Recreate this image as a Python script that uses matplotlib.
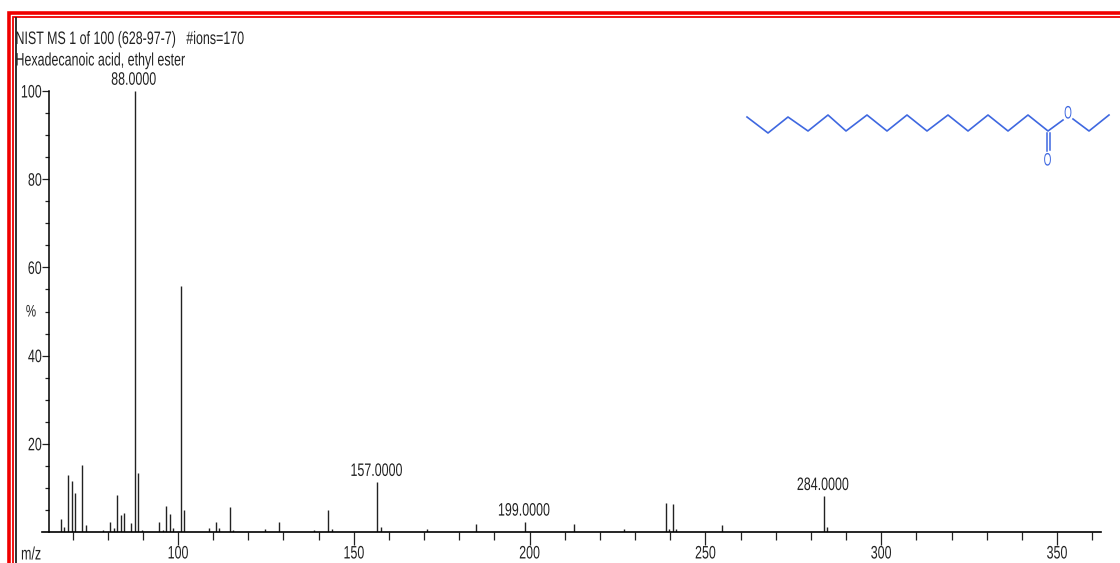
import matplotlib
matplotlib.use('Agg')
import matplotlib.pyplot as plt
import matplotlib.patheffects as pe
from matplotlib.transforms import Affine2D, ScaledTranslation

plt.rcParams['font.family'] = ['Liberation Sans', 'DejaVu Sans']

# peak list
mz = [67, 68, 69, 70, 71, 73, 74, 79, 81, 82, 83, 84, 85, 87, 88, 89, 90,
      95, 96, 97, 98, 99, 101, 102, 109, 111, 112, 115, 116, 125, 129, 139,
      143, 144, 157, 158, 171, 185, 199, 213, 227, 239, 240, 241, 242, 255,
      284, 285]
intensity = [3.0, 1.2, 12.9, 11.5, 8.9, 15.1, 1.5, 0.5, 2.3, 0.9, 8.5, 3.8, 4.4, 2.0, 100, 13.3, 0.5,
             2.3, 0.5, 6.0, 4.1, 0.8, 55.8, 4.9, 0.8, 2.3, 0.8, 5.6, 0.5, 0.75, 2.3, 0.4,
             5.05, 0.7, 11.3, 1.1, 0.7, 1.9, 2.3, 1.9, 0.75, 6.6, 0.7, 6.3, 0.75, 1.5,
             8.1, 1.1]
labelled = [88, 157, 199, 284]
x_major = [100, 150, 200, 250, 300, 350]
x_minor = [70, 80, 90, 110, 120, 130, 140, 160, 170, 180, 190, 210, 220, 230, 240,
           260, 270, 280, 290, 310, 320, 330, 340, 360]
y_major = [20, 40, 60, 80, 100]
y_minor = [5, 10, 15, 25, 30, 35, 45, 50, 55, 65, 70, 75, 85, 90, 95]

# structure drawing, in image pixels
chain_x = [747, 768, 788, 808, 828, 846, 867, 887, 907, 927, 948, 968, 988, 1008, 1028, 1048, 1063]
chain_y = [117, 133, 117, 131, 115, 131, 115, 131, 115, 131, 115, 131, 115, 131, 115, 131, 120]
ethyl_x = [1073, 1089, 1109]
ethyl_y = [119, 131, 115]
BLUE = '#3f68e0'
INK = '#222222'
FS = 13


class Narrow(pe.AbstractPathEffect):
    # squeeze text sideways, the original font is a tall condensed one
    def __init__(self, sx=0.69, anchor='center'):
        super().__init__()
        self.sx = sx
        self.anchor = anchor

    def draw_path(self, renderer, gc, tpath, affine, rgbFace=None):
        box = tpath.get_extents()
        x0 = {'left': box.x0, 'right': box.x1, 'center': (box.x0 + box.x1) / 2}[self.anchor]
        squeeze = Affine2D().translate(-x0, 0).scale(self.sx, 1).translate(x0, 0)
        renderer.draw_path(gc, tpath, squeeze + affine, rgbFace)


W, H = 1120, 563
fig = plt.figure(figsize=(W / 100, H / 100), dpi=100, facecolor='white')

# axes spans 42..1101 px across so the baseline overshoots the y axis like the original
x_at_100, px_per_mz = 178.0, 3.516
ax = fig.add_axes([42 / W, 1 - 532 / H, (1101 - 42) / W, (532 - 91) / H])
ax.set_xlim(100 + (42 - x_at_100) / px_per_mz, 100 + (1101 - x_at_100) / px_per_mz)
ax.set_ylim(0, 100)
ax.patch.set_alpha(0)

# sticks sit one pixel left of the ticks in the original
stick_shift = ScaledTranslation(-0.01, 0, fig.dpi_scale_trans)
ax.vlines(mz, 0, intensity, color=INK, lw=1.0, transform=ax.transData + stick_shift)
for m, h in zip(mz, intensity):
    if m in labelled:
        ax.annotate('%.4f' % m, (m, h), xytext=(-1.5, 4.5), textcoords='offset points',
                    ha='center', va='baseline', fontsize=FS, color=INK,
                    path_effects=[Narrow()])

for s in ['top', 'right']:
    ax.spines[s].set_visible(False)
ax.spines['left'].set_position(('data', 100 + (49 - x_at_100) / px_per_mz))
ax.spines['left'].set_bounds(0, 100)
ax.spines['left'].set_linewidth(1.1)
ax.spines['bottom'].set_linewidth(1.2)

ax.set_xticks(x_major)
ax.set_xticks(x_minor, minor=True)
ax.set_yticks(y_major)
ax.set_yticks(y_minor, minor=True)
ax.tick_params(axis='x', which='major', length=9, width=0.9, color=INK, labelcolor=INK, labelsize=FS, pad=0.7)
ax.tick_params(axis='x', which='minor', length=5.5, width=0.9, color=INK)
ax.tick_params(axis='y', which='major', length=5, width=0.9, color=INK, labelcolor=INK, labelsize=FS, pad=0)
ax.tick_params(axis='y', which='minor', length=3, width=0.9, color=INK)
for lab in ax.get_xticklabels():
    lab.set_path_effects([Narrow()])
for lab in ax.get_yticklabels():
    lab.set_path_effects([Narrow(anchor='right')])

# overlay in image pixels for the window frame, header and structure
ov = fig.add_axes([0, 0, 1, 1])
ov.set_xlim(0, W)
ov.set_ylim(H, 0)
ov.axis('off')
ov.patch.set_alpha(0)

ov.plot([8.5, 8.5, W], [H, 12.5, 12.5], color='#f00000', lw=2.6, solid_joinstyle='miter')
ov.plot([13, 13, W], [H, 16.5, 16.5], color='#f00000', lw=1.3, solid_joinstyle='miter')
ov.plot([16, 16], [H, 18], color=INK, lw=1.3)

ov.text(15, 39.5, 'NIST MS 1 of 100 (628-97-7)   #ions=170', fontsize=FS, color=INK, ha='left', va='center',
        path_effects=[Narrow(anchor='left')])
ov.text(15, 61, 'Hexadecanoic acid, ethyl ester', fontsize=FS, color=INK, ha='left', va='center',
        path_effects=[Narrow(anchor='left')])
ov.text(31, 312, '%', fontsize=FS - 1, color=INK, ha='center', va='center', path_effects=[Narrow()])
ov.text(31, 555, 'm/z', fontsize=FS, color=INK, ha='center', va='center', path_effects=[Narrow()])

ov.plot(chain_x, chain_y, color=BLUE, lw=1.2)
ov.plot(ethyl_x, ethyl_y, color=BLUE, lw=1.2)
ov.plot([1046.5, 1046.5], [133, 151], color=BLUE, lw=1.1)
ov.plot([1050, 1050], [133, 150], color=BLUE, lw=1.1)
ov.text(1068, 114, 'O', fontsize=FS, color=BLUE, ha='center', va='center', path_effects=[Narrow(0.55)])
ov.text(1047.5, 161, 'O', fontsize=FS, color=BLUE, ha='center', va='center', path_effects=[Narrow(0.55)])

fig.savefig('out.png', dpi=100)
